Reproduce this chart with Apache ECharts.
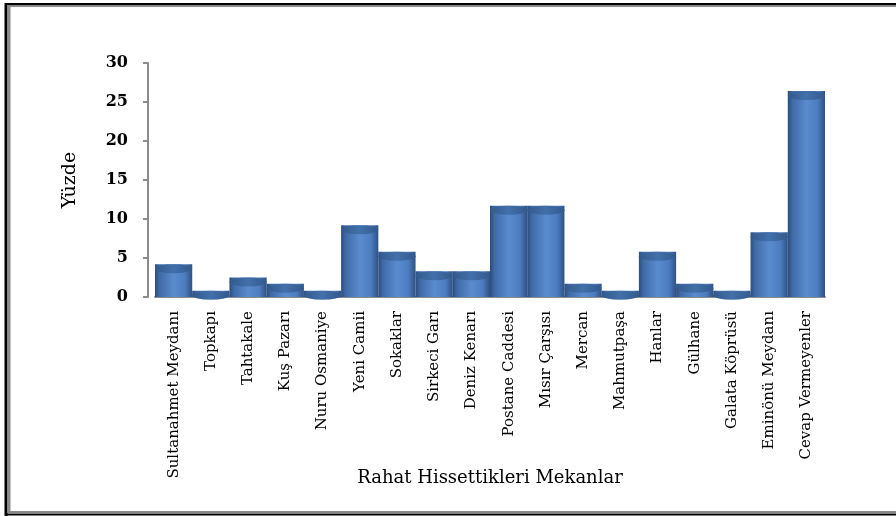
<!DOCTYPE html>
<html><head><meta charset="utf-8">
<script src="https://cdn.jsdelivr.net/npm/echarts@6/dist/echarts.min.js"></script>
<style>html,body{margin:0;padding:0;background:#fff}#c{width:896px;height:516px}</style>
</head><body><div id="c"></div>
<script>
const categories = ["Sultanahmet Meydanı","Topkapı","Tahtakale","Kuş Pazarı","Nuru Osmaniye","Yeni Camii","Sokaklar","Sirkeci Garı","Deniz Kenarı","Postane Caddesi","Mısır Çarşısı","Mercan","Mahmutpaşa","Hanlar","Gülhane","Galata Köprüsü","Eminönü Meydanı","Cevap Vermeyenler"];
const values = [4.2,0.8,2.5,1.7,0.8,9.2,5.8,3.3,3.3,11.7,11.7,1.7,0.8,5.8,1.7,0.8,8.3,26.4];
const yTicks = [0,5,10,15,20,25,30];
const yName = "Yüzde";
const xName = "Rahat Hissettikleri Mekanlar";

const chart = echarts.init(document.getElementById('c'), null, {renderer:'canvas'});
const serif = "DejaVu Serif";
const bodyGrad = new echarts.graphic.LinearGradient(0,0,1,0,[
  {offset:0,color:'#2c4c7c'},{offset:0.12,color:'#3f6aa6'},{offset:0.5,color:'#5a8bcf'},
  {offset:0.8,color:'#4d7dc0'},{offset:1,color:'#2e5183'}]);
const capGrad = new echarts.graphic.LinearGradient(0,0,1,0,[
  {offset:0,color:'#33598c'},{offset:0.5,color:'#4270aa'},{offset:1,color:'#33598c'}]);
chart.setOption({
  animation:false,
  graphic:[
    {type:'line',shape:{x1:6,y1:3,x2:6,y2:516},style:{stroke:'#000',lineWidth:3}},
    {type:'line',shape:{x1:9,y1:6,x2:9,y2:512},style:{stroke:'#8a8a8a',lineWidth:3}},
    {type:'line',shape:{x1:5,y1:4,x2:896,y2:4},style:{stroke:'#000',lineWidth:2}},
    {type:'line',shape:{x1:8,y1:6,x2:896,y2:6},style:{stroke:'#8a8a8a',lineWidth:2}},
    {type:'line',shape:{x1:8,y1:512,x2:896,y2:512},style:{stroke:'#8a8a8a',lineWidth:2}},
    {type:'line',shape:{x1:5,y1:514.5,x2:896,y2:514.5},style:{stroke:'#000',lineWidth:2}}
  ],
  grid:{left:155,right:71,top:63,bottom:219,containLabel:false},
  xAxis:{
    type:'category',data:categories,
    axisLine:{lineStyle:{color:'#8c8c8c',width:2}},
    axisTick:{show:false},
    axisLabel:{rotate:90,interval:0,margin:14,fontFamily:serif,fontSize:15,color:'#000'},
    name:xName,nameLocation:'middle',nameGap:172,nameMoveOverlap:false,
    nameTextStyle:{fontFamily:serif,fontSize:18,color:'#000',verticalAlign:'top'}
  },
  yAxis:{
    type:'value',min:0,max:30,interval:5,offset:7,
    axisLine:{show:true,lineStyle:{color:'#8c8c8c',width:2}},
    axisTick:{show:true,length:5,lineStyle:{color:'#8c8c8c',width:2}},
    splitLine:{show:false},
    axisLabel:{margin:20,fontFamily:serif,fontSize:16,fontWeight:'bold',color:'#000',
      formatter:function(v){return yTicks.indexOf(v)>=0?String(v):'';}},
    name:yName,nameLocation:'middle',nameGap:68,nameRotate:90,nameMoveOverlap:false,
    nameTextStyle:{fontFamily:serif,fontSize:19,color:'#000'}
  },
  series:[
    {type:'bar',data:values,barCategoryGap:'0%',z:2,
     itemStyle:{color:bodyGrad}},
    {type:'pictorialBar',data:values,symbol:'circle',symbolPosition:'end',
     symbolSize:['100%',9],symbolOffset:[0,0],z:3,barCategoryGap:'0%',
     itemStyle:{color:capGrad}}
  ]
});
</script></body></html>
